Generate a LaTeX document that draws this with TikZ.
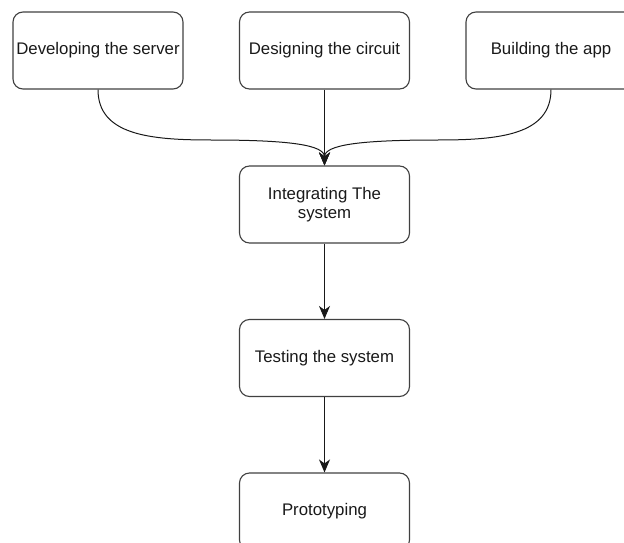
\documentclass[tikz,border=0pt]{standalone}
\usepackage{fontspec}
\setmainfont{Liberation Sans}
\usetikzlibrary{arrows.meta}
\begin{document}
\begin{tikzpicture}[x=1pt,y=-1pt,
      kotak/.style={draw=black!75,line width=1.1pt,rounded corners=10pt,
        align=center,inner sep=2pt,font=\fontsize{16.8}{19}\selectfont,
        text=black!90,minimum width=170pt,minimum height=77pt},
      pn/.style={-{Stealth[length=13pt,width=11pt,inset=4pt]},draw=black!90,line width=1pt}]

    \path[use as bounding box,clip] (0,0) rectangle (624,543);

    % Baris atas
    \node[kotak] (srv) at (98,50.5) {Developing the server};
    \node[kotak] (ckt) at (324.5,50.5) {Designing the circuit};
    \node[kotak] (app) at (551,50.5) {Building the app};

    % Kolom tengah
    \node[kotak] (integ) at (324.5,204.5) {Integrating The\\system};
    \node[kotak] (uji) at (324.5,358) {Testing the system};
    \node[kotak] (proto) at (324.5,511.5) {Prototyping};

    % Tiga cabang menuju integrasi
    \draw[pn] (srv.south) .. controls (98,135) and (150,140) .. (211,140)
      .. controls (290,140) and (324.5,145) .. (integ.north);
    \draw[pn] (app.south) .. controls (551,135) and (499,140) .. (438,140)
      .. controls (359,140) and (324.5,145) .. (integ.north);
    \draw[pn] (ckt.south) -- (integ.north);

    % Kolom utama
    \foreach \a/\b in {integ/uji, uji/proto}
      {\draw[pn] (\a) -- (\b);}
  \end{tikzpicture}
\end{document}
